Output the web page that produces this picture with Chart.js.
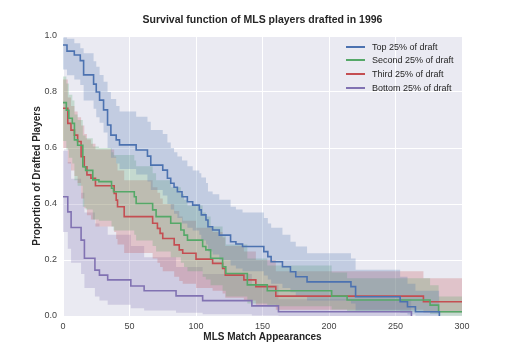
<!DOCTYPE html>
<html>
<head>
<meta charset="utf-8">
<script src="https://cdn.jsdelivr.net/npm/chart.js@4.4.0/dist/chart.umd.min.js"></script>
<style>
  body { margin: 0; background: #fff; }
  #wrap { position: relative; width: 512px; height: 352px; }
  #legend { position: absolute; left: 346px; top: 40px; font: 9px 'Liberation Sans', Arial, sans-serif; color: #262626; }
  #legend div { display: flex; align-items: center; height: 13.6px; white-space: nowrap; }
  #legend span.sw { display: inline-block; width: 19px; height: 2px; margin-right: 7px; }
</style>
</head>
<body>
<div id="wrap">
  <canvas id="km" width="512" height="352"></canvas>
  <div id="legend"></div>
</div>
<script>
/* survival curves: step times, survival, ci bounds */
const groups = ['Top 25% of draft', 'Second 25% of draft', 'Third 25% of draft', 'Bottom 25% of draft'];
const colors = ['#4c72b0', '#55a868', '#c44e52', '#8172b2'];
const bands  = ['rgba(76,114,176,0.25)', 'rgba(85,168,104,0.25)', 'rgba(196,78,82,0.25)', 'rgba(129,114,178,0.25)'];

const topT  = [0, 3, 8.5, 13, 15.5, 23, 25, 27.5, 30.5, 33.5, 36, 40, 42.5, 55, 63.5, 66, 75, 78.5, 81, 83.5, 86, 89.5, 93.5, 97.5, 102.5, 104, 107.5, 109, 112.5, 117.5, 126, 130, 135, 151, 154, 156.5, 165, 171, 175, 183.5, 216.5, 220, 253.5, 259, 265, 283];
const topS  = [0.968, 0.946, 0.932, 0.912, 0.861, 0.828, 0.8, 0.771, 0.736, 0.682, 0.646, 0.629, 0.611, 0.593, 0.571, 0.539, 0.521, 0.492, 0.474, 0.46, 0.444, 0.426, 0.408, 0.396, 0.379, 0.361, 0.343, 0.319, 0.307, 0.289, 0.265, 0.257, 0.248, 0.23, 0.212, 0.194, 0.176, 0.158, 0.14, 0.122, 0.105, 0.069, 0.051, 0.033, 0.015, 0];
const topHi = [0.995, 0.99, 0.974, 0.956, 0.938, 0.91, 0.89, 0.861, 0.837, 0.8, 0.775, 0.75, 0.73, 0.712, 0.694, 0.664, 0.65, 0.62, 0.6, 0.585, 0.57, 0.555, 0.535, 0.52, 0.51, 0.495, 0.475, 0.445, 0.435, 0.415, 0.39, 0.38, 0.37, 0.35, 0.33, 0.315, 0.29, 0.265, 0.248, 0.224, 0.205, 0.165, 0.14, 0.115, 0.09, 0];
const topLo = [0.88, 0.86, 0.845, 0.825, 0.77, 0.74, 0.71, 0.69, 0.655, 0.6, 0.565, 0.545, 0.525, 0.505, 0.48, 0.45, 0.43, 0.4, 0.38, 0.365, 0.35, 0.33, 0.315, 0.305, 0.29, 0.27, 0.255, 0.23, 0.22, 0.2, 0.18, 0.17, 0.16, 0.145, 0.13, 0.115, 0.1, 0.085, 0.07, 0.055, 0.045, 0.02, 0.012, 0.005, 0.001, 0];

const secT  = [0, 2.5, 4.4, 7, 8.6, 11, 14.9, 17, 22.4, 27, 36.5, 38, 53.6, 55, 67.4, 70, 81, 88.6, 91, 93.6, 105, 107.4, 111, 120, 122.4, 138.6, 153.6, 202, 213.6, 276, 282.4, 300];
const secS  = [0.762, 0.735, 0.706, 0.688, 0.629, 0.61, 0.533, 0.52, 0.486, 0.48, 0.456, 0.444, 0.426, 0.402, 0.379, 0.355, 0.331, 0.307, 0.289, 0.271, 0.248, 0.236, 0.206, 0.176, 0.152, 0.111, 0.09, 0.071, 0.057, 0.039, 0.015, 0.015];
const secHi = [0.855, 0.83, 0.79, 0.77, 0.72, 0.7, 0.645, 0.635, 0.605, 0.6, 0.585, 0.575, 0.555, 0.535, 0.51, 0.485, 0.46, 0.435, 0.415, 0.395, 0.37, 0.355, 0.32, 0.285, 0.255, 0.205, 0.18, 0.155, 0.135, 0.11, 0.07, 0.07];
const secLo = [0.625, 0.595, 0.565, 0.545, 0.485, 0.465, 0.39, 0.38, 0.345, 0.34, 0.32, 0.305, 0.29, 0.27, 0.25, 0.23, 0.21, 0.19, 0.175, 0.16, 0.14, 0.13, 0.11, 0.09, 0.07, 0.045, 0.035, 0.023, 0.015, 0.007, 0.001, 0.001];

const thirdT  = [0, 3.6, 6, 8.6, 11, 13.6, 16, 18, 21, 24.4, 38.5, 40, 41, 46, 67.4, 71, 73, 75, 83.6, 87.4, 90, 100, 112.5, 120, 122, 136, 145, 160, 271, 300];
const thirdS  = [0.742, 0.688, 0.664, 0.646, 0.623, 0.569, 0.533, 0.504, 0.492, 0.465, 0.438, 0.414, 0.39, 0.355, 0.331, 0.313, 0.295, 0.277, 0.254, 0.236, 0.224, 0.203, 0.188, 0.17, 0.146, 0.129, 0.105, 0.071, 0.051, 0.051];
const thirdHi = [0.845, 0.78, 0.75, 0.73, 0.71, 0.68, 0.65, 0.63, 0.615, 0.595, 0.57, 0.545, 0.52, 0.485, 0.46, 0.44, 0.42, 0.4, 0.375, 0.355, 0.34, 0.315, 0.3, 0.28, 0.25, 0.23, 0.2, 0.16, 0.135, 0.135];
const thirdLo = [0.6, 0.545, 0.52, 0.5, 0.475, 0.42, 0.385, 0.36, 0.345, 0.32, 0.3, 0.275, 0.255, 0.225, 0.205, 0.19, 0.175, 0.16, 0.14, 0.125, 0.115, 0.1, 0.09, 0.08, 0.065, 0.055, 0.04, 0.022, 0.012, 0.012];

const botT  = [0, 3.6, 6.1, 13.6, 16.1, 24, 27.4, 33.6, 51, 61, 85, 105, 142, 162, 262];
const botS  = [0.426, 0.372, 0.316, 0.271, 0.206, 0.164, 0.146, 0.129, 0.107, 0.09, 0.072, 0.055, 0.036, 0.015, 0];
const botHi = [0.59, 0.55, 0.49, 0.44, 0.37, 0.33, 0.32, 0.29, 0.25, 0.21, 0.175, 0.15, 0.11, 0.06, 0];
const botLo = [0.3, 0.24, 0.19, 0.15, 0.1, 0.07, 0.055, 0.04, 0.028, 0.02, 0.012, 0.006, 0.002, 0, 0];

const xTicks = [0, 50, 100, 150, 200, 250, 300];
const yTicks = [0, 0.2, 0.4, 0.6, 0.8, 1.0];

const curves = [
  [topT, topS, topLo, topHi],
  [secT, secS, secLo, secHi],
  [thirdT, thirdS, thirdLo, thirdHi],
  [botT, botS, botLo, botHi]
];

function pts(t, v) { return t.map((x, i) => ({ x: x, y: v[i] })); }

const datasets = [];
curves.forEach(function (c, g) {
  datasets.push({ label: groups[g] + ' upper', data: pts(c[0], c[3]), stepped: true, borderWidth: 0, pointRadius: 0, backgroundColor: bands[g], fill: '+1', order: 1 });
  datasets.push({ label: groups[g] + ' lower', data: pts(c[0], c[2]), stepped: true, borderWidth: 0, pointRadius: 0, fill: false, order: 1 });
  datasets.push({ label: groups[g], data: pts(c[0], c[1]), stepped: true, borderColor: colors[g], borderWidth: 1.6, pointRadius: 0, fill: false, order: 0 });
});

const plotBg = {
  id: 'plotBg',
  beforeDraw(chart) {
    const a = chart.chartArea, ctx = chart.ctx;
    ctx.save();
    ctx.fillStyle = '#eaeaf2';
    ctx.fillRect(a.left, a.top, a.right - a.left, a.bottom - a.top);
    ctx.restore();
  }
};

const tickFont = { family: "'Liberation Sans', Arial, sans-serif", size: 9 };
const boldFont = { family: "'Liberation Sans', Arial, sans-serif", size: 10, weight: 'bold' };

new Chart(document.getElementById('km'), {
  type: 'line',
  data: { datasets: datasets },
  options: {
    responsive: false,
    animation: false,
    devicePixelRatio: 1,
    layout: { padding: { left: 0, right: 50, top: 0, bottom: 0 } },
    plugins: {
      legend: { display: false },
      tooltip: { enabled: false },
      title: {
        display: true,
        fullSize: false,
        text: 'Survival function of MLS players drafted in 1996',
        color: '#262626',
        font: { family: "'Liberation Sans', Arial, sans-serif", size: 10.5, weight: 'bold' },
        padding: { top: 13.7, bottom: 9.7 }
      }
    },
    scales: {
      x: {
        type: 'linear', min: 0, max: 300,
        afterBuildTicks: s => { s.ticks = xTicks.map(v => ({ value: v })); },
        afterFit: s => { s.height = 36; },
        ticks: { color: '#444', font: tickFont, padding: 5, maxRotation: 0 },
        grid: { color: '#ffffff', lineWidth: 1, drawTicks: false },
        border: { display: false },
        title: { display: true, text: 'MLS Match Appearances', color: '#262626', font: boldFont, padding: { top: 0, bottom: 9 } }
      },
      y: {
        type: 'linear', min: 0, max: 1,
        afterBuildTicks: s => { s.ticks = yTicks.map(v => ({ value: v })); },
        afterFit: s => { s.width = 63; },
        ticks: { color: '#444', font: tickFont, padding: 6, callback: v => v.toFixed(1) },
        grid: { color: '#ffffff', lineWidth: 1, drawTicks: false },
        border: { display: false },
        title: { display: true, text: 'Proportion of Drafted Players', color: '#262626', font: boldFont, padding: { top: 31, bottom: 0 } }
      }
    }
  },
  plugins: [plotBg]
});

const legend = document.getElementById('legend');
groups.forEach(function (name, g) {
  const row = document.createElement('div');
  const sw = document.createElement('span');
  sw.className = 'sw';
  sw.style.background = colors[g];
  row.appendChild(sw);
  row.appendChild(document.createTextNode(name));
  legend.appendChild(row);
});
</script>
</body>
</html>
